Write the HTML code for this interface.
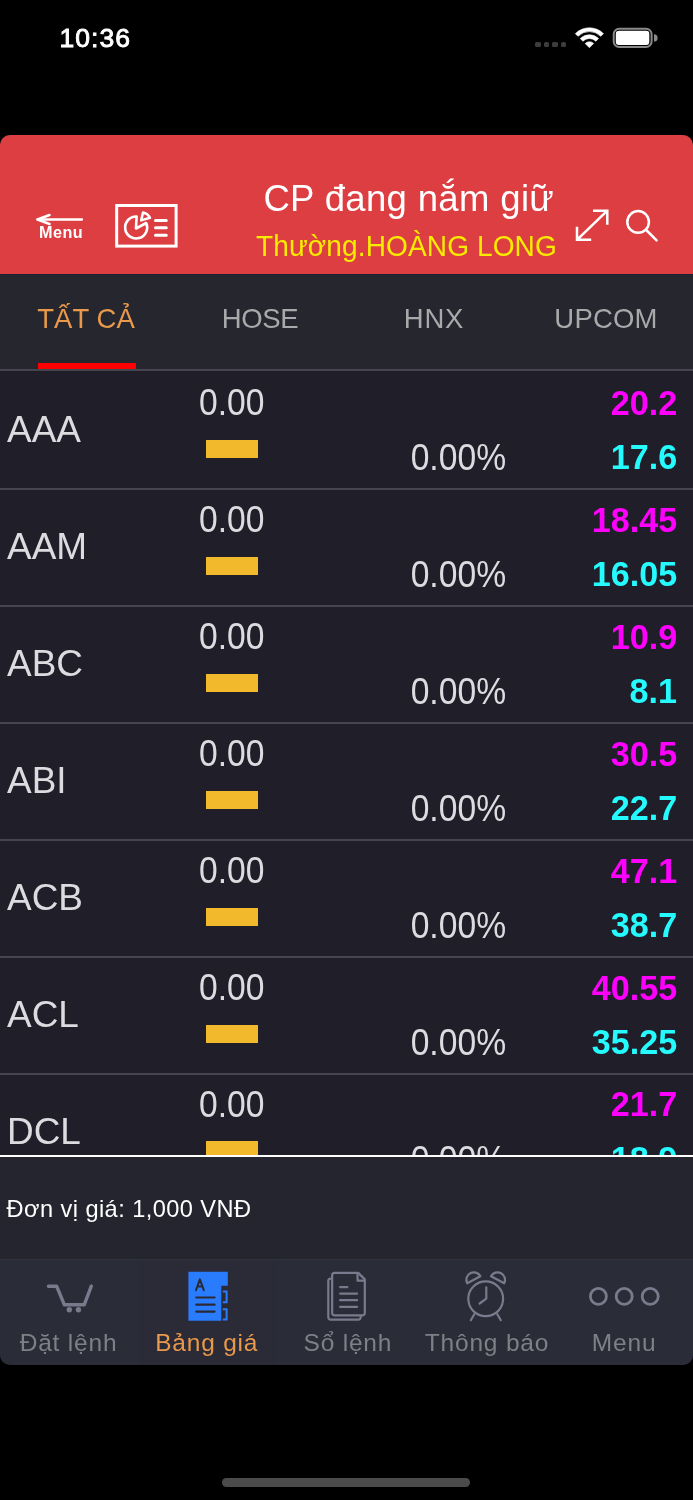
<!DOCTYPE html>
<html><head><meta charset="utf-8"><style>
html,body{margin:0;padding:0;background:#000;width:693px;height:1500px;overflow:hidden;font-family:"Liberation Sans", sans-serif;}
#root{position:absolute;left:0;top:0;width:693px;height:1500px;will-change:transform;}
#card{will-change:transform;position:absolute;left:0;top:135px;width:693px;height:1230px;border-radius:10px;overflow:hidden;background:#201f29;}
</style></head><body><div id="root">
<div style="position:absolute;left:59.60px;top:25.07px;font-size:26.5px;line-height:26.5px;color:#fff;font-weight:normal;letter-spacing:1.0px;white-space:nowrap;-webkit-text-stroke:0.9px #fff;">10:36</div><div style="position:absolute;left:535.4px;top:41.9px;width:5.6px;height:5.6px;border-radius:1.6px;background:#3d3d3d"></div><div style="position:absolute;left:543.8px;top:41.9px;width:5.6px;height:5.6px;border-radius:1.6px;background:#3d3d3d"></div><div style="position:absolute;left:552.1px;top:41.9px;width:5.6px;height:5.6px;border-radius:1.6px;background:#3d3d3d"></div><div style="position:absolute;left:560.7px;top:41.9px;width:5.6px;height:5.6px;border-radius:1.6px;background:#3d3d3d"></div><svg style="position:absolute;left:0;top:0" width="693" height="80" viewBox="0 0 693 80">
<path d="M575.33 33.63 A19.9 19.9 0 0 1 603.47 33.63 L600.78 36.32 A16.1 16.1 0 0 0 578.02 36.32 Z" fill="#fff" stroke="#fff" stroke-width="0.6" stroke-linejoin="round"/>
<path d="M580.21 38.51 A13 13 0 0 1 598.59 38.51 L595.9 41.19 A9.2 9.2 0 0 0 582.9 41.19 Z" fill="#fff" stroke="#fff" stroke-width="0.6" stroke-linejoin="round"/>
<path d="M589.4 47.7 L585.16 43.46 A6 6 0 0 1 593.64 43.46 Z" fill="#fff" stroke="#fff" stroke-width="0.6" stroke-linejoin="round"/>
<rect x="613.7" y="28.8" width="37.9" height="18.2" rx="5.5" ry="5.5" fill="none" stroke="#8a8a8a" stroke-width="2"/>
<rect x="615.8" y="30.7" width="33.5" height="14.3" rx="3" ry="3" fill="#fff"/>
<path d="M654 34.3 A3.6 3.6 0 0 1 654 41.5 Z" fill="#8a8a8a"/>
</svg><div id="card"><div style="position:absolute;left:0.00px;top:0.00px;width:693.00px;height:138.80px;background:#dd3e42;"></div><div style="position:absolute;left:0.00px;top:138.80px;width:693.00px;height:1.20px;background:#1b2030;"></div><div style="position:absolute;left:0.00px;top:140.00px;width:693.00px;height:94.00px;background:#26262f;"></div><div style="position:absolute;left:0.00px;top:234.00px;width:693.00px;height:2.00px;background:#45454f;"></div><svg style="position:absolute;left:0;top:0" width="693" height="140" viewBox="0 135 693 140">
<g stroke="#fff" fill="none" stroke-linecap="round" stroke-linejoin="round">
<path d="M37.5 219.5 H82" stroke-width="2.3"/>
<path d="M49.5 215 L37.5 219.5 L49.5 224" stroke-width="2.5"/>
<rect x="116.7" y="205.5" width="59.4" height="40.6" stroke-width="3" stroke-linecap="butt" stroke-linejoin="miter"/>
<path d="M136.6 216.5 A11 11 0 1 0 146.2 223 L136 228.5 Z" stroke-width="2.6"/>
<path d="M143 212.5 A10.5 10.5 0 0 1 150 217.8 L141.2 220.4 Z" stroke-width="2.5"/>
<path d="M155.5 220.4 H166.3 M155.5 227.8 H166.3 M155.5 235.3 H166.3" stroke-width="3"/>
<path d="M593 210.7 H607.3 V224.7 M607.3 210.7 L577 239.8 M577 226.7 V239.8 H591.2" stroke-width="2.5" stroke-linecap="butt" stroke-linejoin="miter"/>
<circle cx="638.1" cy="221.9" r="10.8" stroke-width="2.5"/>
<path d="M646.2 230 L656.6 240.4" stroke-width="2.5"/>
</g></svg><div style="position:absolute;left:39.10px;top:89.19px;font-size:16.2px;line-height:16.2px;color:#fff;font-weight:bold;letter-spacing:0.45px;white-space:nowrap;">Menu</div><div style="position:absolute;left:263.40px;top:46.00px;font-size:36.5px;line-height:36.5px;color:#fff;font-weight:normal;letter-spacing:0.35px;white-space:nowrap;">CP đang nắm giữ</div><div style="position:absolute;left:256.00px;top:96.75px;font-size:29px;line-height:29px;color:#f7ec00;font-weight:normal;letter-spacing:0.1px;white-space:nowrap;transform:scaleX(0.968);transform-origin:left center;">Thường.HOÀNG LONG</div><div style="position:absolute;left:-213.68px;width:600px;text-align:center;top:169.37px;font-size:28.5px;line-height:28.5px;color:#e8994b;font-weight:normal;letter-spacing:0.05px;white-space:nowrap;transform:scaleX(0.965);transform-origin:center center;">TẤT CẢ</div><div style="position:absolute;left:-40.18px;width:600px;text-align:center;top:169.37px;font-size:28.5px;line-height:28.5px;color:#a9a9ab;font-weight:normal;letter-spacing:-0.35px;white-space:nowrap;transform:scaleX(0.965);transform-origin:center center;">HOSE</div><div style="position:absolute;left:133.75px;width:600px;text-align:center;top:169.37px;font-size:28.5px;line-height:28.5px;color:#a9a9ab;font-weight:normal;letter-spacing:0.9px;white-space:nowrap;transform:scaleX(0.965);transform-origin:center center;">HNX</div><div style="position:absolute;left:306.40px;width:600px;text-align:center;top:169.37px;font-size:28.5px;line-height:28.5px;color:#a9a9ab;font-weight:normal;letter-spacing:0.2px;white-space:nowrap;transform:scaleX(0.965);transform-origin:center center;">UPCOM</div><div style="position:absolute;left:38.00px;top:228.00px;width:98.00px;height:6.00px;background:#ff0000;"></div><div style="position:absolute;left:0;top:236px;width:693px;height:784px;overflow:hidden;background:#201f29"><div style="position:absolute;left:6.90px;top:40.36px;font-size:37.5px;line-height:37.5px;color:#dcdce0;font-weight:normal;letter-spacing:0px;white-space:nowrap;transform:scaleX(0.985);transform-origin:left center;">AAA</div><div style="position:absolute;left:198.80px;top:14.43px;font-size:36px;line-height:36px;color:#dcdce0;font-weight:normal;letter-spacing:0px;white-space:nowrap;transform:scaleX(0.935);transform-origin:left center;">0.00</div><div style="position:absolute;left:205.80px;top:69.00px;width:52.20px;height:18.00px;background:#f2b92c;"></div><div style="position:absolute;right:186.80px;top:69.13px;font-size:36px;line-height:36px;color:#dcdce0;font-weight:normal;letter-spacing:0px;white-space:nowrap;transform:scaleX(0.935);transform-origin:right center;">0.00%</div><div style="position:absolute;right:15.80px;top:15.00px;font-size:34.5px;line-height:34.5px;color:#ff00ff;font-weight:bold;letter-spacing:0px;white-space:nowrap;transform:scaleX(0.99);transform-origin:right center;">20.2</div><div style="position:absolute;right:15.80px;top:69.40px;font-size:34.5px;line-height:34.5px;color:#25fbff;font-weight:bold;letter-spacing:0px;white-space:nowrap;transform:scaleX(0.99);transform-origin:right center;">17.6</div><div style="position:absolute;left:0.00px;top:117.00px;width:693.00px;height:2.00px;background:#45454f;"></div><div style="position:absolute;left:6.90px;top:157.26px;font-size:37.5px;line-height:37.5px;color:#dcdce0;font-weight:normal;letter-spacing:0px;white-space:nowrap;transform:scaleX(0.985);transform-origin:left center;">AAM</div><div style="position:absolute;left:198.80px;top:131.33px;font-size:36px;line-height:36px;color:#dcdce0;font-weight:normal;letter-spacing:0px;white-space:nowrap;transform:scaleX(0.935);transform-origin:left center;">0.00</div><div style="position:absolute;left:205.80px;top:185.90px;width:52.20px;height:18.00px;background:#f2b92c;"></div><div style="position:absolute;right:186.80px;top:186.03px;font-size:36px;line-height:36px;color:#dcdce0;font-weight:normal;letter-spacing:0px;white-space:nowrap;transform:scaleX(0.935);transform-origin:right center;">0.00%</div><div style="position:absolute;right:15.80px;top:131.90px;font-size:34.5px;line-height:34.5px;color:#ff00ff;font-weight:bold;letter-spacing:0px;white-space:nowrap;transform:scaleX(0.99);transform-origin:right center;">18.45</div><div style="position:absolute;right:15.80px;top:186.30px;font-size:34.5px;line-height:34.5px;color:#25fbff;font-weight:bold;letter-spacing:0px;white-space:nowrap;transform:scaleX(0.99);transform-origin:right center;">16.05</div><div style="position:absolute;left:0.00px;top:233.90px;width:693.00px;height:2.00px;background:#45454f;"></div><div style="position:absolute;left:6.90px;top:274.16px;font-size:37.5px;line-height:37.5px;color:#dcdce0;font-weight:normal;letter-spacing:0px;white-space:nowrap;transform:scaleX(0.985);transform-origin:left center;">ABC</div><div style="position:absolute;left:198.80px;top:248.23px;font-size:36px;line-height:36px;color:#dcdce0;font-weight:normal;letter-spacing:0px;white-space:nowrap;transform:scaleX(0.935);transform-origin:left center;">0.00</div><div style="position:absolute;left:205.80px;top:302.80px;width:52.20px;height:18.00px;background:#f2b92c;"></div><div style="position:absolute;right:186.80px;top:302.93px;font-size:36px;line-height:36px;color:#dcdce0;font-weight:normal;letter-spacing:0px;white-space:nowrap;transform:scaleX(0.935);transform-origin:right center;">0.00%</div><div style="position:absolute;right:15.80px;top:248.80px;font-size:34.5px;line-height:34.5px;color:#ff00ff;font-weight:bold;letter-spacing:0px;white-space:nowrap;transform:scaleX(0.99);transform-origin:right center;">10.9</div><div style="position:absolute;right:15.80px;top:303.20px;font-size:34.5px;line-height:34.5px;color:#25fbff;font-weight:bold;letter-spacing:0px;white-space:nowrap;transform:scaleX(0.99);transform-origin:right center;">8.1</div><div style="position:absolute;left:0.00px;top:350.80px;width:693.00px;height:2.00px;background:#45454f;"></div><div style="position:absolute;left:6.90px;top:391.06px;font-size:37.5px;line-height:37.5px;color:#dcdce0;font-weight:normal;letter-spacing:0px;white-space:nowrap;transform:scaleX(0.985);transform-origin:left center;">ABI</div><div style="position:absolute;left:198.80px;top:365.13px;font-size:36px;line-height:36px;color:#dcdce0;font-weight:normal;letter-spacing:0px;white-space:nowrap;transform:scaleX(0.935);transform-origin:left center;">0.00</div><div style="position:absolute;left:205.80px;top:419.70px;width:52.20px;height:18.00px;background:#f2b92c;"></div><div style="position:absolute;right:186.80px;top:419.83px;font-size:36px;line-height:36px;color:#dcdce0;font-weight:normal;letter-spacing:0px;white-space:nowrap;transform:scaleX(0.935);transform-origin:right center;">0.00%</div><div style="position:absolute;right:15.80px;top:365.70px;font-size:34.5px;line-height:34.5px;color:#ff00ff;font-weight:bold;letter-spacing:0px;white-space:nowrap;transform:scaleX(0.99);transform-origin:right center;">30.5</div><div style="position:absolute;right:15.80px;top:420.10px;font-size:34.5px;line-height:34.5px;color:#25fbff;font-weight:bold;letter-spacing:0px;white-space:nowrap;transform:scaleX(0.99);transform-origin:right center;">22.7</div><div style="position:absolute;left:0.00px;top:467.70px;width:693.00px;height:2.00px;background:#45454f;"></div><div style="position:absolute;left:6.90px;top:507.96px;font-size:37.5px;line-height:37.5px;color:#dcdce0;font-weight:normal;letter-spacing:0px;white-space:nowrap;transform:scaleX(0.985);transform-origin:left center;">ACB</div><div style="position:absolute;left:198.80px;top:482.03px;font-size:36px;line-height:36px;color:#dcdce0;font-weight:normal;letter-spacing:0px;white-space:nowrap;transform:scaleX(0.935);transform-origin:left center;">0.00</div><div style="position:absolute;left:205.80px;top:536.60px;width:52.20px;height:18.00px;background:#f2b92c;"></div><div style="position:absolute;right:186.80px;top:536.73px;font-size:36px;line-height:36px;color:#dcdce0;font-weight:normal;letter-spacing:0px;white-space:nowrap;transform:scaleX(0.935);transform-origin:right center;">0.00%</div><div style="position:absolute;right:15.80px;top:482.60px;font-size:34.5px;line-height:34.5px;color:#ff00ff;font-weight:bold;letter-spacing:0px;white-space:nowrap;transform:scaleX(0.99);transform-origin:right center;">47.1</div><div style="position:absolute;right:15.80px;top:537.00px;font-size:34.5px;line-height:34.5px;color:#25fbff;font-weight:bold;letter-spacing:0px;white-space:nowrap;transform:scaleX(0.99);transform-origin:right center;">38.7</div><div style="position:absolute;left:0.00px;top:584.60px;width:693.00px;height:2.00px;background:#45454f;"></div><div style="position:absolute;left:6.90px;top:624.86px;font-size:37.5px;line-height:37.5px;color:#dcdce0;font-weight:normal;letter-spacing:0px;white-space:nowrap;transform:scaleX(0.985);transform-origin:left center;">ACL</div><div style="position:absolute;left:198.80px;top:598.93px;font-size:36px;line-height:36px;color:#dcdce0;font-weight:normal;letter-spacing:0px;white-space:nowrap;transform:scaleX(0.935);transform-origin:left center;">0.00</div><div style="position:absolute;left:205.80px;top:653.50px;width:52.20px;height:18.00px;background:#f2b92c;"></div><div style="position:absolute;right:186.80px;top:653.63px;font-size:36px;line-height:36px;color:#dcdce0;font-weight:normal;letter-spacing:0px;white-space:nowrap;transform:scaleX(0.935);transform-origin:right center;">0.00%</div><div style="position:absolute;right:15.80px;top:599.50px;font-size:34.5px;line-height:34.5px;color:#ff00ff;font-weight:bold;letter-spacing:0px;white-space:nowrap;transform:scaleX(0.99);transform-origin:right center;">40.55</div><div style="position:absolute;right:15.80px;top:653.90px;font-size:34.5px;line-height:34.5px;color:#25fbff;font-weight:bold;letter-spacing:0px;white-space:nowrap;transform:scaleX(0.99);transform-origin:right center;">35.25</div><div style="position:absolute;left:0.00px;top:701.50px;width:693.00px;height:2.00px;background:#45454f;"></div><div style="position:absolute;left:6.90px;top:741.76px;font-size:37.5px;line-height:37.5px;color:#dcdce0;font-weight:normal;letter-spacing:0px;white-space:nowrap;transform:scaleX(0.985);transform-origin:left center;">DCL</div><div style="position:absolute;left:198.80px;top:715.83px;font-size:36px;line-height:36px;color:#dcdce0;font-weight:normal;letter-spacing:0px;white-space:nowrap;transform:scaleX(0.935);transform-origin:left center;">0.00</div><div style="position:absolute;left:205.80px;top:770.40px;width:52.20px;height:18.00px;background:#f2b92c;"></div><div style="position:absolute;right:186.80px;top:770.53px;font-size:36px;line-height:36px;color:#dcdce0;font-weight:normal;letter-spacing:0px;white-space:nowrap;transform:scaleX(0.935);transform-origin:right center;">0.00%</div><div style="position:absolute;right:15.80px;top:716.40px;font-size:34.5px;line-height:34.5px;color:#ff00ff;font-weight:bold;letter-spacing:0px;white-space:nowrap;transform:scaleX(0.99);transform-origin:right center;">21.7</div><div style="position:absolute;right:15.80px;top:770.80px;font-size:34.5px;line-height:34.5px;color:#25fbff;font-weight:bold;letter-spacing:0px;white-space:nowrap;transform:scaleX(0.99);transform-origin:right center;">18.9</div></div><div style="position:absolute;left:0.00px;top:1020.00px;width:693.00px;height:2.20px;background:#ffffff;"></div><div style="position:absolute;left:0.00px;top:1022.20px;width:693.00px;height:101.80px;background:#25252f;"></div><div style="position:absolute;left:6.60px;top:1062.62px;font-size:23.6px;line-height:23.6px;color:#ffffff;font-weight:normal;letter-spacing:0.43px;white-space:nowrap;">Đơn vị giá: 1,000 VNĐ</div><div style="position:absolute;left:0.00px;top:1124.00px;width:693.00px;height:106.00px;background:#2a2c38;"></div><div style="position:absolute;left:138.60px;top:1124.00px;width:138.60px;height:106.00px;background:#2b2a37;"></div><div style="position:absolute;left:0.00px;top:1123.80px;width:693.00px;height:1.40px;background:#30313b;"></div><div style="position:absolute;left:-231.50px;width:600px;text-align:center;top:1196.06px;font-size:24.5px;line-height:24.5px;color:#7f7f86;font-weight:normal;letter-spacing:0.8px;white-space:nowrap;">Đặt lệnh</div><div style="position:absolute;left:-93.30px;width:600px;text-align:center;top:1196.06px;font-size:24.5px;line-height:24.5px;color:#e8994b;font-weight:normal;letter-spacing:0.8px;white-space:nowrap;">Bảng giá</div><div style="position:absolute;left:47.90px;width:600px;text-align:center;top:1196.06px;font-size:24.5px;line-height:24.5px;color:#7f7f86;font-weight:normal;letter-spacing:0.8px;white-space:nowrap;">Sổ lệnh</div><div style="position:absolute;left:187.00px;width:600px;text-align:center;top:1196.06px;font-size:24.5px;line-height:24.5px;color:#7f7f86;font-weight:normal;letter-spacing:0.8px;white-space:nowrap;">Thông báo</div><div style="position:absolute;left:324.10px;width:600px;text-align:center;top:1196.06px;font-size:24.5px;line-height:24.5px;color:#7f7f86;font-weight:normal;letter-spacing:0.8px;white-space:nowrap;">Menu</div><svg style="position:absolute;left:0;top:1124px" width="693" height="106" viewBox="0 1259 693 106">
<g stroke="#7b7a8c" fill="none" stroke-linecap="round" stroke-linejoin="round">
<path d="M48.4 1286.2 H56.6 L64.4 1304.8 H84.2 L91.3 1286.2" stroke-width="3.4"/>
<path d="M332.15 1275.4 A2.5 2.5 0 0 1 334.65 1272.9 H358.3 L364.8 1279.4 V1312.9 A2.5 2.5 0 0 1 362.3 1315.4 H334.65 A2.5 2.5 0 0 1 332.15 1312.9 Z" stroke-width="2.2"/>
<path d="M357.55 1273.2 V1280.7 H364.6" stroke-width="2.2"/>
<path d="M330.7 1278.6 A2.4 2.4 0 0 0 328.3 1281 V1317.3 A2.4 2.4 0 0 0 330.7 1319.7 H358.3 A2.4 2.4 0 0 0 360.7 1317.3 V1316.6" stroke-width="2.2"/>
<path d="M340.1 1287.05 H347.4 M340.1 1293.6 H357.1 M340.1 1300.2 H357.1 M340.1 1306.8 H357.1" stroke-width="2.2"/>
<circle cx="485.7" cy="1298.8" r="17.4" stroke-width="2.2"/>
<path d="M486.3 1287.3 V1298.6 L479.6 1303.5" stroke-width="2.2"/>
<path d="M474.3 1314.2 L470.8 1320.2 M497.3 1314.2 L500.8 1320.2" stroke-width="2.2"/>
<path d="M467.2 1283.3 A7.3 7.3 0 0 1 480.4 1276.3 Z" stroke-width="2.2"/>
<path d="M504.2 1283.3 A7.3 7.3 0 0 0 491 1276.3 Z" stroke-width="2.2"/>
<circle cx="598.4" cy="1296.4" r="8" stroke-width="2.8"/>
<circle cx="624.2" cy="1296.4" r="8" stroke-width="2.8"/>
<circle cx="650.2" cy="1296.4" r="8" stroke-width="2.8"/>
</g>
<g fill="#7b7a8c"><circle cx="69.3" cy="1309.8" r="2.7"/><circle cx="78.4" cy="1309.8" r="2.7"/></g>
<path d="M188.4 1271.8 H227.8 V1285.8 H221.3 V1320.8 H188.4 Z" fill="#2a7cff"/>
<path d="M222.8 1291.5 H226.6 V1302.2 H222.8 M222.8 1309.3 H226.6 V1319.6 H222.8" stroke="#2a7cff" stroke-width="2" fill="none"/>
<path d="M196 1290.2 L199.9 1279.4 L203.8 1290.2 M197.4 1286.4 H202.4" stroke="#2a2a36" stroke-width="2" fill="none" stroke-linecap="round" stroke-linejoin="round"/>
<path d="M196.3 1297.5 H214.6 M196.3 1304.7 H214.6 M196.3 1311.6 H214.6" stroke="#2a2a36" stroke-width="2.2" stroke-linecap="round"/>
</svg></div><div style="position:absolute;left:222.20px;top:1478.20px;width:248.10px;height:8.60px;background:#4b4b4b;border-radius:4.3px;"></div>
</div></body></html>
